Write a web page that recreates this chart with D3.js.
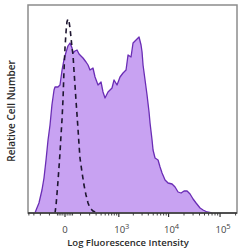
<!DOCTYPE html>
<html>
<head>
<meta charset="utf-8">
<script src="https://cdn.jsdelivr.net/npm/d3@7"></script>
<style>
  html, body { margin: 0; padding: 0; background: #fff; }
  svg { display: block; }
</style>
</head>
<body>
<svg id="chart"></svg>
<script>
// stained sample: [fluorescence, cell count]
const stained = [
    [-281, 0], [-256, 4], [-219, 10], [-179, 23], [-155, 35], [-133, 53], [-113, 73],
    [-95, 88], [-79, 108], [-63, 123], [-56, 126], [-37, 126], [-25, 128], [-14, 143],
    [-5, 153], [5, 161], [14, 167], [25, 170], [37, 165], [43, 160], [56, 162],
    [71, 163], [87, 159], [104, 157], [123, 155], [155, 151], [179, 148], [205, 143],
    [248, 145], [281, 136], [336, 128], [398, 131], [444, 121], [495, 115], [580, 121],
    [644, 123], [713, 125], [789, 133], [916, 128], [1061, 136], [1228, 140], [1418, 143],
    [1559, 158], [1796, 156], [1973, 170], [2166, 172], [2378, 174], [2609, 176],
    [2862, 168], [2997, 161], [3138, 148], [3440, 133], [3770, 118], [4131, 101],
    [4324, 90], [4737, 73], [4957, 63], [5428, 55], [6220, 53], [6810, 46], [7454, 40],
    [8535, 33], [9771, 30], [11697, 29], [13385, 26], [15315, 21], [17520, 20],
    [20040, 22], [22930, 22], [26220, 19], [29990, 14], [34290, 10], [41000, 5],
    [46890, 3], [56070, 1], [70110, 0]
];

// isotype control
const control = [
    [-56, 0], [-49, 8], [-43, 19], [-37, 31], [-31, 45], [-25, 60], [-20, 76],
    [-14, 94], [-9, 115], [-5, 140], [0, 165], [5, 182], [9, 191], [14, 194],
    [20, 191], [25, 185], [31, 175], [37, 165], [43, 158], [49, 143], [56, 128],
    [63, 113], [71, 98], [79, 83], [87, 68], [95, 55], [113, 41], [133, 28],
    [155, 18], [179, 10], [205, 5], [248, 2], [317, 0]
];

const majorTicks = [0, 1e3, 1e4, 1e5];
const majorLabels = [['0', ''], ['10', '3'], ['10', '4'], ['10', '5']];
const minorTicks = [
    -400, -300, -200, -100, -40, -30, -20, -10, 10, 20, 30, 40,
    100, 200, 300, 400, 500, 600, 700, 800, 900,
    2000, 3000, 4000, 5000, 6000, 7000, 8000, 9000,
    20000, 30000, 40000, 50000, 60000, 70000, 80000, 90000, 200000
];

const width = 250, height = 250;
const plot = { left: 28, right: 237, top: 5, bottom: 213 };

const x = d3.scaleSymlog()
    .constant(100)
    .domain([-420, 213000])
    .range([plot.left, plot.right]);

const y = d3.scaleLinear()
    .domain([0, 208])
    .range([plot.bottom, plot.top]);

const svg = d3.select('#chart')
    .attr('width', width)
    .attr('height', height);

svg.append('defs').append('clipPath')
    .attr('id', 'clip')
    .append('rect')
    .attr('x', plot.left)
    .attr('y', plot.top)
    .attr('width', plot.right - plot.left)
    .attr('height', plot.bottom - plot.top);

const g = svg.append('g').attr('clip-path', 'url(#clip)');

g.append('path')
    .datum(stained)
    .attr('fill', '#c8a2f2')
    .attr('stroke', 'none')
    .attr('d', d3.area()
        .x(d => x(d[0]))
        .y0(y(0))
        .y1(d => y(d[1])));

g.append('path')
    .datum(stained)
    .attr('fill', 'none')
    .attr('stroke', '#6a2db5')
    .attr('stroke-width', 1.3)
    .attr('stroke-linejoin', 'round')
    .attr('d', d3.line()
        .x(d => x(d[0]))
        .y(d => y(d[1])));

g.append('path')
    .datum(control)
    .attr('fill', 'none')
    .attr('stroke', '#1e1630')
    .attr('stroke-width', 1.6)
    .attr('stroke-dasharray', '5,4')
    .attr('d', d3.line()
        .x(d => x(d[0]))
        .y(d => y(d[1])));

// frame
svg.append('rect')
    .attr('x', plot.left)
    .attr('y', plot.top)
    .attr('width', plot.right - plot.left)
    .attr('height', plot.bottom - plot.top)
    .attr('fill', 'none')
    .attr('stroke', '#8c8c8c')
    .attr('stroke-width', 1.5);

// x axis
const axis = svg.append('g')
    .attr('transform', `translate(0, ${plot.bottom})`);

axis.append('line')
    .attr('x1', plot.left)
    .attr('x2', plot.right)
    .attr('stroke', '#333')
    .attr('stroke-width', 1.3);

axis.selectAll('.minor')
    .data(minorTicks)
    .enter().append('line')
    .attr('class', 'minor')
    .attr('x1', d => x(d))
    .attr('x2', d => x(d))
    .attr('y1', 0)
    .attr('y2', 2.5)
    .attr('stroke', '#333')
    .attr('stroke-width', 0.9);

axis.selectAll('.major')
    .data(majorTicks)
    .enter().append('line')
    .attr('class', 'major')
    .attr('x1', d => x(d))
    .attr('x2', d => x(d))
    .attr('y1', 0)
    .attr('y2', 4)
    .attr('stroke', '#333')
    .attr('stroke-width', 1.2);

const labels = axis.selectAll('.tick-label')
    .data(majorTicks)
    .enter().append('text')
    .attr('class', 'tick-label')
    .attr('x', (d, i) => x(d) + (i ? 3 : 0))
    .attr('y', 19.5)
    .attr('text-anchor', 'middle')
    .attr('font-family', 'Open Sans, sans-serif')
    .attr('font-size', 9.5)
    .attr('fill', '#444');

labels.append('tspan').text((d, i) => majorLabels[i][0]);
labels.append('tspan')
    .attr('dy', -4)
    .attr('font-size', 7.5)
    .text((d, i) => majorLabels[i][1]);

svg.append('text')
    .attr('x', 128)
    .attr('y', 245.5)
    .attr('text-anchor', 'middle')
    .attr('font-family', 'Open Sans, sans-serif')
    .attr('font-size', 9.5)
    .attr('font-weight', 600)
    .attr('fill', '#2a2a2a')
    .text('Log Fluorescence Intensity');

svg.append('text')
    .attr('transform', 'translate(15, 111) rotate(-90)')
    .attr('text-anchor', 'middle')
    .attr('font-family', 'Open Sans, sans-serif')
    .attr('font-size', 10)
    .attr('font-weight', 600)
    .attr('fill', '#2a2a2a')
    .text('Relative Cell Number');
</script>
</body>
</html>
